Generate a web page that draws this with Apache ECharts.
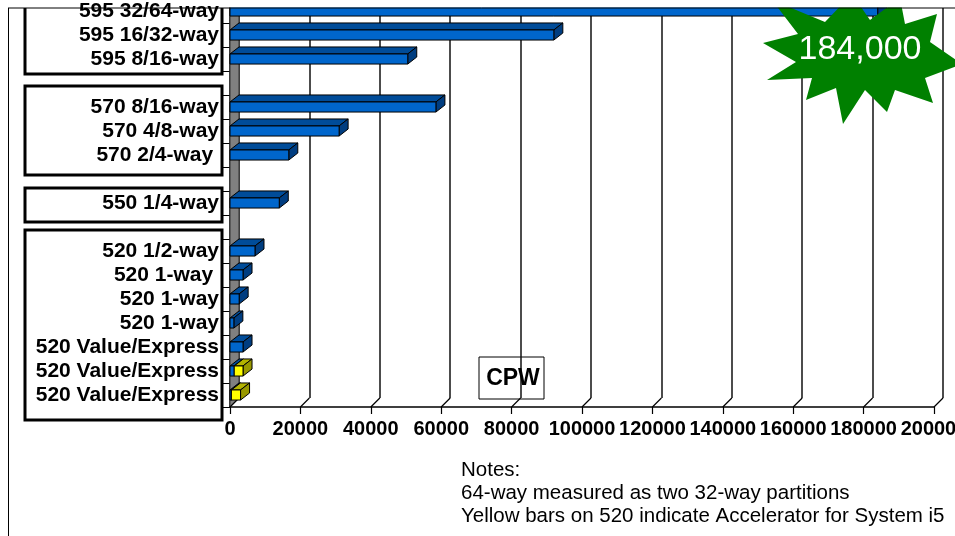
<!DOCTYPE html>
<html>
<head>
<meta charset="utf-8">
<title>CPW</title>
<script src="https://cdn.jsdelivr.net/npm/echarts@6/dist/echarts.min.js"></script>
<style>
    html, body { margin: 0; padding: 0; background: #fff; }
    #main { width: 955px; height: 536px; }
</style>
</head>
<body>
<div id="main"></div>
<script>
// categories, top to bottom (blank rows are the gaps between model groups)
var categories = [
    '595 32/64-way', '595 16/32-way', '595 8/16-way', '',
    '570 8/16-way', '570 4/8-way', '570 2/4-way ', '',
    '550 1/4-way', '',
    '520 1/2-way', '520 1-way ', '520 1-way', '520 1-way',
    '520 Value/Express', '520 Value/Express', '520 Value/Express'
];

// CPW, blue part of each bar
var blueValues = [
    184000, 92000, 50500, null,
    58500, 31000, 16700, null,
    14000, null,
    7100, 3700, 2600, 1100,
    3700, 1200, 400
];

// CPW added by the Accelerator (yellow part, stacked on the blue)
var yellowValues = [
    null, null, null, null,
    null, null, null, null,
    null, null,
    null, null, null, null,
    null, 2500, 2600
];

var xTicks = [0, 20000, 40000, 60000, 80000, 100000, 120000, 140000, 160000, 180000, 200000];

var notes = ['Notes:', '64-way measured as two 32-way partitions', 'Yellow bars on 520 indicate Accelerator for System i5'];
var starLabel = '184,000';

var FONT = '"Liberation Sans", Arial, Helvetica, sans-serif';
var DX = 9, DY = 7;      // bar depth
var FDX = 9, FDY = 9;    // floor / wall depth

// tiny extend so we don't need jquery
var $ = {
    extend: function (a, b) {
        for (var k in b) a[k] = b[k];
        return a;
    }
};

var myChart = echarts.init(document.getElementById('main'));

/**
 * 3d bar: front face + top face + right side
 */
function bar3d(colors) {
    return function (params, api) {
        var x0 = api.coord([api.value(0), api.value(2)]);
        var x1 = api.coord([api.value(1), api.value(2)]);
        var band = api.size([0, 1])[1];
        var h = band * 0.42;
        var yt = x0[1] - h / 2, yb = x0[1] + h / 2;
        var l = x0[0], r = x1[0];
        var line = {stroke: '#000', lineWidth: 1};
        return {
            type: 'group',
            children: [{
                type: 'polygon',
                shape: {points: [[l, yt], [l + DX, yt - DY], [r + DX, yt - DY], [r, yt]]},
                style: $.extend({fill: colors[1]}, line)
            }, {
                type: 'polygon',
                shape: {points: [[r, yt], [r + DX, yt - DY], [r + DX, yb - DY], [r, yb]]},
                style: $.extend({fill: colors[2]}, line)
            }, {
                type: 'rect',
                shape: {x: l, y: yt, width: r - l, height: h},
                style: $.extend({fill: colors[0]}, line)
            }]
        };
    };
}

var blueData = [], yellowData = [];
categories.forEach(function (c, i) {
    if (blueValues[i] != null) blueData.push([0, blueValues[i], i]);
    if (yellowValues[i] != null) {
        var base = blueValues[i] || 0;
        yellowData.push([base, base + yellowValues[i], i]);
    }
});

// floor diagonals at each tick, plus the grey left wall
function renderFloor(params, api) {
    var last = categories.length - 1;
    var p = api.coord([api.value(0), last]);
    var first = api.coord([api.value(0), 0]);
    var band = api.size([0, 1])[1];
    var bottom = p[1] + band / 2;
    var top = first[1] - band / 2;
    var children = [{
        type: 'line',
        shape: {x1: p[0], y1: bottom, x2: p[0] + FDX, y2: bottom - FDY},
        style: {stroke: '#000', lineWidth: 1.2}
    }];
    if (params.dataIndex === 0) {
        children.unshift({
            type: 'polygon',
            shape: {points: [[p[0], bottom], [p[0] + FDX, bottom - FDY], [p[0] + FDX, top], [p[0], top]]},
            style: {fill: '#808080', stroke: '#333', lineWidth: 1}
        });
    }
    return {type: 'group', children: children};
}

// star burst behind the 184,000 note
var starPoints = [
    [962, 64], [925, 78], [933, 103], [895, 90], [887, 112], [865, 90],
    [843, 124], [836, 88], [806, 100], [812, 78], [767, 80], [796, 62],
    [763, 43], [798, 34], [772, 0], [825, 22], [852, -6], [870, 20],
    [900, -2], [905, 24], [937, 14], [930, 42]
];

var option = {
    animation: false,
    backgroundColor: '#fff',
    grid: [{
        left: 230, right: 21, top: -1, bottom: 129,
        containLabel: false, outerBoundsMode: 'none'
    }, {
        left: 230 + FDX, right: 21 - FDX, top: 8, bottom: 129 + FDY,
        containLabel: false, outerBoundsMode: 'none'
    }],
    xAxis: [{
        gridIndex: 0,
        type: 'value',
        min: xTicks[0], max: xTicks[xTicks.length - 1], interval: xTicks[1] - xTicks[0],
        axisLine: {show: true, lineStyle: {color: '#000', width: 1.5}},
        axisTick: {show: true, length: 7, lineStyle: {color: '#000', width: 1.2}},
        axisLabel: {
            color: '#000', fontFamily: FONT, fontWeight: 'bold', fontSize: 20, margin: 12,
            showMinLabel: true, showMaxLabel: true,
            formatter: function (v) { return String(v); }
        },
        splitLine: {show: false}
    }, {
        gridIndex: 1,
        type: 'value',
        min: xTicks[0], max: xTicks[xTicks.length - 1], interval: xTicks[1] - xTicks[0],
        axisLine: {show: false},
        axisTick: {show: false},
        axisLabel: {show: false},
        splitLine: {show: true, lineStyle: {color: '#111', width: 1.5}}
    }],
    yAxis: [{
        gridIndex: 0,
        type: 'category',
        inverse: true,
        data: categories,
        axisLine: {show: true, lineStyle: {color: '#000', width: 1.5}},
        axisTick: {show: true, length: 8, lineStyle: {color: '#000', width: 1}},
        axisLabel: {
            interval: 0, color: '#000', fontFamily: FONT, fontWeight: 'bold', fontSize: 21, margin: 11
        },
        splitLine: {show: false}
    }, {
        gridIndex: 1,
        type: 'value',
        show: false
    }],
    series: [{
        name: 'floor',
        type: 'custom',
        xAxisIndex: 0, yAxisIndex: 0,
        renderItem: renderFloor,
        data: xTicks.map(function (v) { return [v]; }),
        encode: {x: 0},
        z: 1,
        silent: true
    }, {
        name: 'CPW',
        type: 'custom',
        xAxisIndex: 0, yAxisIndex: 0,
        renderItem: bar3d(['#0066CC', '#004C99', '#003D80']),
        data: blueData,
        encode: {x: [0, 1], y: 2},
        z: 3
    }, {
        name: 'Accelerator',
        type: 'custom',
        xAxisIndex: 0, yAxisIndex: 0,
        renderItem: bar3d(['#FFFF00', '#B3B300', '#999900']),
        data: yellowData,
        encode: {x: [0, 1], y: 2},
        z: 4
    }],
    graphic: [
        // group boxes round the labels
        {type: 'polyline', z: 5, shape: {points: [[25, 8], [25, 74], [222, 74], [222, 8]]},
            style: {stroke: '#000', lineWidth: 3, fill: null}},
        {type: 'rect', z: 5, shape: {x: 25, y: 86, width: 197, height: 89},
            style: {stroke: '#000', lineWidth: 3, fill: null}},
        {type: 'rect', z: 5, shape: {x: 25, y: 188, width: 197, height: 34},
            style: {stroke: '#000', lineWidth: 3, fill: null}},
        {type: 'rect', z: 5, shape: {x: 25, y: 230, width: 197, height: 190},
            style: {stroke: '#000', lineWidth: 3, fill: null}},
        // CPW box
        {type: 'rect', z: 0, shape: {x: 479, y: 357, width: 65, height: 42},
            style: {stroke: '#000', lineWidth: 1, fill: null}},
        {type: 'text', z: 6, x: 513, y: 379,
            style: {text: 'CPW', font: 'bold 23px ' + FONT, fill: '#000', align: 'center', verticalAlign: 'middle'}},
        // star
        {type: 'polygon', z: 10, shape: {points: starPoints}, style: {fill: '#008000'}},
        {type: 'text', z: 11, x: 860, y: 50,
            style: {text: starLabel, font: '34px ' + FONT, fill: '#fff', align: 'center', verticalAlign: 'middle'}},
        // clip strip at the top and the slide frame
        {type: 'rect', z: 20, shape: {x: 224, y: 0, width: 731, height: 7.5}, style: {fill: '#fff'}},
        {type: 'line', z: 21, shape: {x1: 8, y1: 8, x2: 955, y2: 8}, style: {stroke: '#000', lineWidth: 1}},
        {type: 'line', z: 21, shape: {x1: 8.5, y1: 8, x2: 8.5, y2: 536}, style: {stroke: '#000', lineWidth: 1}},
        // notes
        {type: 'text', z: 6, x: 461, y: 459,
            style: {text: notes.join('\n'), font: '20.5px ' + FONT, lineHeight: 23, fill: '#000'}}
    ]
};

myChart.setOption(option);
</script>
</body>
</html>
